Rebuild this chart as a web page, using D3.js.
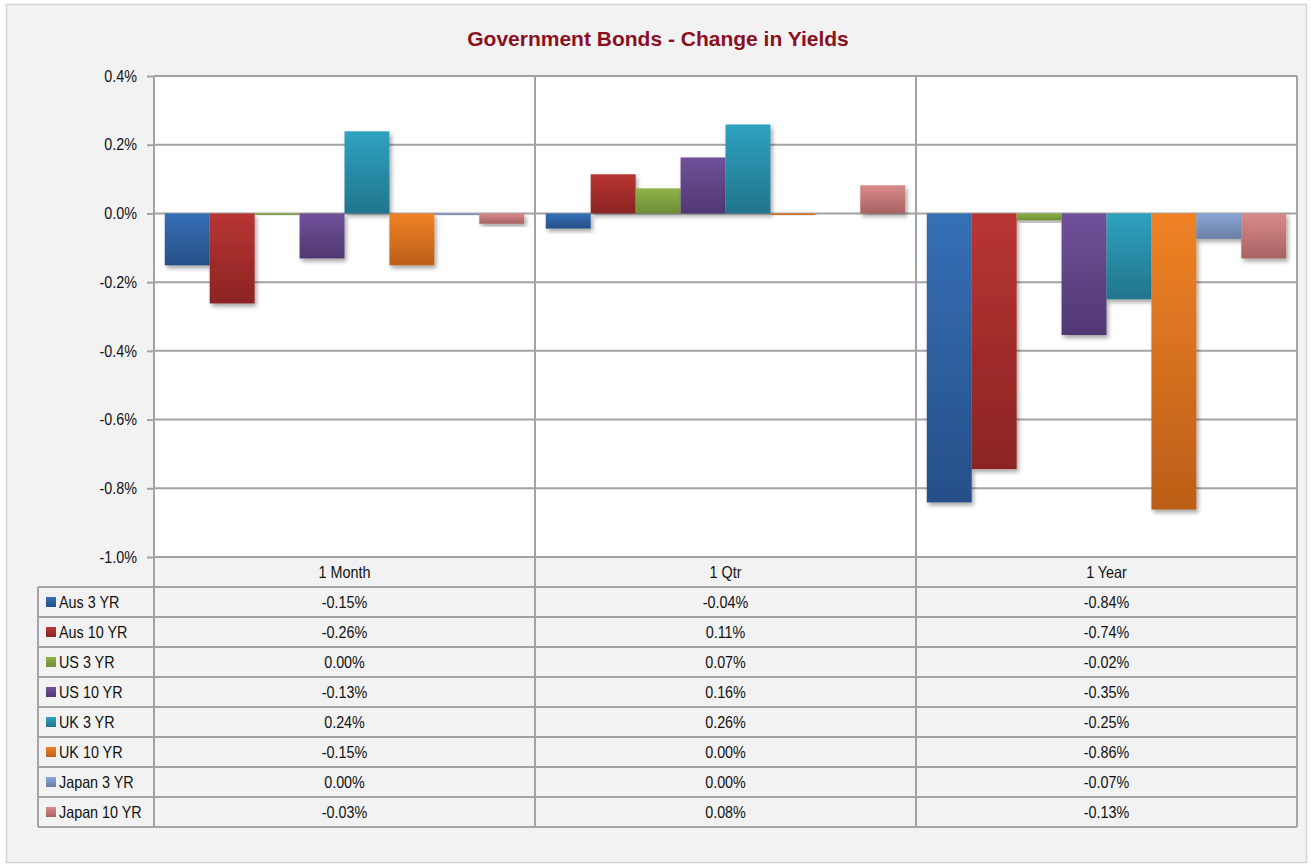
<!DOCTYPE html>
<html>
<head>
<meta charset="utf-8">
<script src="https://cdn.jsdelivr.net/npm/d3@7"></script>
<style>
  body { margin: 0; background: #fff; font-family: "Liberation Sans", Arial, sans-serif; }
  text { font-family: "Liberation Sans", Arial, sans-serif; }
</style>
</head>
<body>
<div id="chart"></div>
<script>
/// Data
var periods = ["1 Month", "1 Qtr", "1 Year"];
var seriesNames = ["Aus 3 YR", "Aus 10 YR", "US 3 YR", "US 10 YR", "UK 3 YR", "UK 10 YR", "Japan 3 YR", "Japan 10 YR"];
// values in %, one array per period, in series order
var month1 = [-0.151, -0.262, -0.004, -0.131, 0.239, -0.151, -0.003, -0.03];
var qtr1   = [-0.044, 0.114, 0.073, 0.163, 0.259, -0.004, 0.0, 0.082];
var year1  = [-0.841, -0.744, -0.02, -0.354, -0.25, -0.862, -0.074, -0.131];
var yTicks = [0.4, 0.2, 0.0, -0.2, -0.4, -0.6, -0.8, -1.0];

// light (top) / dark (bottom) gradient colours per series
var colorTop = ["#3670b6", "#b83532", "#8fb249", "#70519a", "#2fa2c0", "#ef8226", "#8aa6d8", "#d98a8a"];
var colorBot = ["#264f88", "#8b2424", "#6e8d35", "#503872", "#21758c", "#bb5e18", "#6a7fa4", "#a86262"];

var valuesByPeriod = [month1, qtr1, year1];

/// SVG Wrapper Dimensions
var svgWidth = 1311;
var svgHeight = 865;

var plot = { left: 154, right: 1297, top: 76, bottom: 557 };
var rowH = 30;
var tableLeft = 38;
var headerBottom = plot.bottom + rowH;
var tableBottom = headerBottom + rowH * seriesNames.length;

var gridColor = "#a3a3a3";
var fontSize = 16.5;
var squeeze = 0.87;   // narrow-ish text like the original

var svg = d3.select("#chart")
    .append("svg")
    .attr("width", svgWidth)
    .attr("height", svgHeight);

var defs = svg.append("defs");

/// Gradients
seriesNames.forEach(function(name, i) {
    var g = defs.append("linearGradient")
        .attr("id", "grad" + i)
        .attr("x1", 0).attr("y1", 0).attr("x2", 0).attr("y2", 1);
    g.append("stop").attr("offset", "0%").attr("stop-color", colorTop[i]);
    g.append("stop").attr("offset", "100%").attr("stop-color", colorBot[i]);
});

/// Drop shadow
var shadow = defs.append("filter")
    .attr("id", "shadow")
    .attr("x", "-20%").attr("y", "-20%")
    .attr("width", "150%").attr("height", "150%");
shadow.append("feDropShadow")
    .attr("dx", 2).attr("dy", 3)
    .attr("stdDeviation", 2)
    .attr("flood-color", "#000")
    .attr("flood-opacity", 0.35);

/// Background & outer border
svg.append("rect")
    .attr("x", 6.5).attr("y", 4.5)
    .attr("width", 1300).attr("height", 858)
    .attr("fill", "#f2f2f2")
    .attr("stroke", "#d4d4d4")
    .attr("stroke-width", 1.5);

/// Plot area
svg.append("rect")
    .attr("x", plot.left).attr("y", plot.top)
    .attr("width", plot.right - plot.left)
    .attr("height", plot.bottom - plot.top)
    .attr("fill", "#fff");

/// Title
svg.append("text")
    .attr("x", 658)
    .attr("y", 46)
    .attr("text-anchor", "middle")
    .attr("font-size", 21)
    .attr("font-weight", "bold")
    .attr("fill", "#8b0f22")
    .text("Government Bonds - Change in Yields");

/// Scales
var x0 = d3.scaleBand()
    .domain(periods)
    .range([plot.left, plot.right])
    .padding(0);

var x1 = d3.scaleBand()
    .domain(seriesNames)
    .range([0, x0.bandwidth()])
    .paddingInner(0)
    .paddingOuter(0.24);

var y = d3.scaleLinear()
    .domain([-1.0, 0.4])
    .range([plot.bottom, plot.top]);

/// Horizontal gridlines
svg.append("g")
    .selectAll("line")
    .data(yTicks)
    .enter()
    .append("line")
    .attr("x1", plot.left)
    .attr("x2", plot.right)
    .attr("y1", d => y(d))
    .attr("y2", d => y(d))
    .attr("stroke", gridColor)
    .attr("stroke-width", 2);

/// Y axis labels + ticks
var leftAxis = d3.axisLeft(y)
    .tickValues(yTicks)
    .tickSize(7)
    .tickPadding(12.5)
    .tickFormat(d => d.toFixed(1) + "%");

var yAxis = svg.append("g")
    .attr("transform", `translate(${plot.left}, 0)`)
    .call(leftAxis);
yAxis.select(".domain").remove();
yAxis.selectAll(".tick line").attr("stroke", gridColor).attr("stroke-width", 2);
yAxis.selectAll(".tick text")
    .attr("font-size", fontSize)
    .attr("fill", "#111")
    .attr("transform", `scale(${squeeze},1)`)
    .attr("font-family", "Liberation Sans, Arial, sans-serif");

/// Bars
var barData = [];
periods.forEach(function(p, pi) {
    seriesNames.forEach(function(s, si) {
        barData.push({ period: p, series: s, si: si, value: valuesByPeriod[pi][si] });
    });
});

svg.append("g")
    .selectAll("rect")
    .data(barData)
    .enter()
    .append("rect")
    .attr("x", d => x0(d.period) + x1(d.series))
    .attr("y", d => y(Math.max(0, d.value)))
    .attr("width", x1.bandwidth())
    .attr("height", d => Math.max(Math.abs(y(d.value) - y(0)), d.value === 0 ? 0 : 1.5))
    .attr("fill", d => "url(#grad" + d.si + ")")
    .attr("filter", "url(#shadow)");

/// Table
var table = svg.append("g");

function placeText(sel, xf, yf) {
    return sel.attr("transform", (d, i) => `translate(${xf(d, i)}, ${yf(d, i)}) scale(${squeeze},1)`)
        .attr("font-size", fontSize)
        .attr("fill", "#111");
}

// header labels
placeText(table.selectAll(".head")
    .data(periods)
    .enter()
    .append("text")
    .attr("text-anchor", "middle")
    .text(d => d),
    d => x0(d) + x0.bandwidth() / 2,
    () => plot.bottom + rowH / 2 + 6);

// horizontal lines for table rows
var rowLines = d3.range(seriesNames.length + 1).map(i => headerBottom + i * rowH);
table.selectAll(".hline")
    .data(rowLines)
    .enter()
    .append("line")
    .attr("x1", tableLeft)
    .attr("x2", plot.right)
    .attr("y1", d => d)
    .attr("y2", d => d)
    .attr("stroke", gridColor)
    .attr("stroke-width", 2);

// vertical lines
var vLines = [plot.left].concat(periods.map(p => x0(p) + x0.bandwidth()));
table.selectAll(".vline")
    .data(vLines)
    .enter()
    .append("line")
    .attr("x1", d => d)
    .attr("x2", d => d)
    .attr("y1", plot.top)
    .attr("y2", tableBottom)
    .attr("stroke", gridColor)
    .attr("stroke-width", 2);

table.append("line")
    .attr("x1", tableLeft).attr("x2", tableLeft)
    .attr("y1", headerBottom).attr("y2", tableBottom)
    .attr("stroke", gridColor)
    .attr("stroke-width", 2);

// legend keys + labels
var rows = table.selectAll(".row")
    .data(seriesNames)
    .enter()
    .append("g")
    .attr("transform", (d, i) => `translate(0, ${headerBottom + i * rowH})`);

rows.append("rect")
    .attr("x", 46)
    .attr("y", rowH / 2 - 5)
    .attr("width", 10)
    .attr("height", 10)
    .attr("fill", (d, i) => "url(#grad" + i + ")");

placeText(rows.append("text").text(d => d),
    () => 59,
    () => rowH / 2 + 6);

// value cells
function fmt(v) {
    var r = Math.round(v * 100) / 100;
    if (r === 0) r = 0;
    return r.toFixed(2) + "%";
}

placeText(rows.selectAll(".val")
    .data((d, i) => periods.map((p, pi) => ({ period: p, value: valuesByPeriod[pi][i] })))
    .enter()
    .append("text")
    .attr("text-anchor", "middle")
    .text(d => fmt(d.value)),
    d => x0(d.period) + x0.bandwidth() / 2,
    () => rowH / 2 + 6);
</script>
</body>
</html>
